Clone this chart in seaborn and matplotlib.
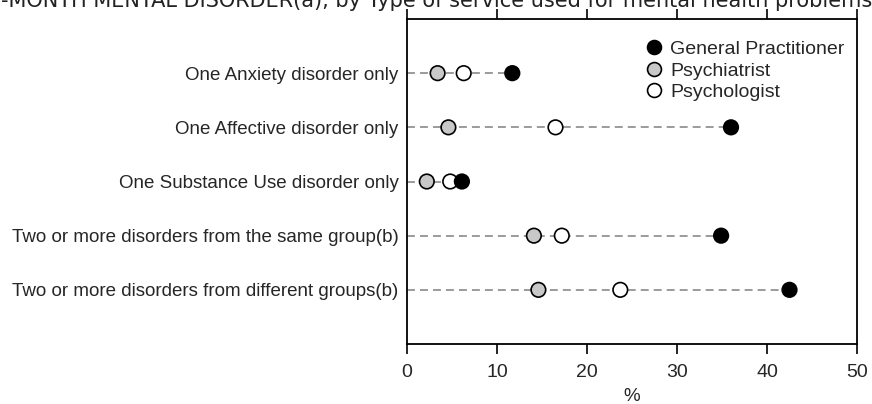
import matplotlib
matplotlib.use("Agg")
import matplotlib.pyplot as plt
from matplotlib.lines import Line2D
import seaborn as sns
import pandas as pd
import numpy as np

categories = [
    "One Anxiety disorder only",
    "One Affective disorder only",
    "One Substance Use disorder only",
    "Two or more disorders from the same group(b)",
    "Two or more disorders from different groups(b)",
]
gp = [11.7, 36.0, 6.1, 34.9, 42.5]
psychiatrist = [3.4, 4.6, 2.2, 14.1, 14.6]
psychologist = [6.3, 16.5, 4.8, 17.2, 23.7]
services = ["General Practitioner", "Psychiatrist", "Psychologist"]
colors = {"General Practitioner": "#000000", "Psychiatrist": "#c8c8c8", "Psychologist": "#ffffff"}
xticks = [0, 10, 20, 30, 40, 50]
title = "PEOPLE WITH A 12-MONTH MENTAL DISORDER(a), by Type of service used for mental health problems"

sns.set_style("white")
plt.rcParams["font.family"] = ["Liberation Sans", "DejaVu Sans"]

df = pd.DataFrame({
    "category": categories * 3,
    "value": psychiatrist + psychologist + gp,
    "service": ["Psychiatrist"] * 5 + ["Psychologist"] * 5 + ["General Practitioner"] * 5,
})

fig = plt.figure(figsize=(8.72, 4.04), dpi=100)
ax = fig.add_axes([407 / 872, 1 - 344 / 404, (857 - 407) / 872, (344 - 19) / 404])

ypos = np.arange(len(categories))
maxvals = [max(a, b, c) for a, b, c in zip(gp, psychiatrist, psychologist)]
ax.hlines(ypos, 0, maxvals, colors="#808080", linestyles=(0, (5.2, 3.3)), linewidth=1.1, zorder=1)

df["y"] = df["category"].map({c: i for i, c in enumerate(categories)})
sns.scatterplot(data=df, x="value", y="y", hue="service", palette=colors,
                s=110, edgecolor="black", linewidth=1.2, legend=False, ax=ax, zorder=3)

ax.set_xlim(0, 50)
ax.set_ylim(5, -1)
ax.set_xticks(xticks)
ax.set_xticklabels([str(t) for t in xticks], fontsize=14)
ax.set_yticks(ypos)
ax.set_yticklabels(categories, fontsize=13.5)
ax.set_xlabel("%", fontsize=13.5, labelpad=5)
ax.set_ylabel("")
ax.tick_params(axis="x", which="both", direction="out", length=7, width=1.2,
               top=True, bottom=True, color="black", pad=7.5)
ax.tick_params(axis="y", length=0, left=False, pad=6)
for sp in ax.spines.values():
    sp.set_visible(True)
    sp.set_color("black")
    sp.set_linewidth(1.3)

handles = [Line2D([], [], marker="o", linestyle="none", markersize=10,
                  markerfacecolor=colors[s], markeredgecolor="black", markeredgewidth=1.2)
           for s in services]
ax.legend(handles, services, loc="upper left", bbox_to_anchor=(0.498, 0.976), frameon=False,
          fontsize=14, handletextpad=0.3, labelspacing=0.2, handlelength=1.0, borderaxespad=0.3)

fig.text(1.0, 1 - 7 / 404, title, ha="right", va="baseline", fontsize=15,
         family="DejaVu Sans", color="#222222")

fig.savefig("out.png", dpi=100)
